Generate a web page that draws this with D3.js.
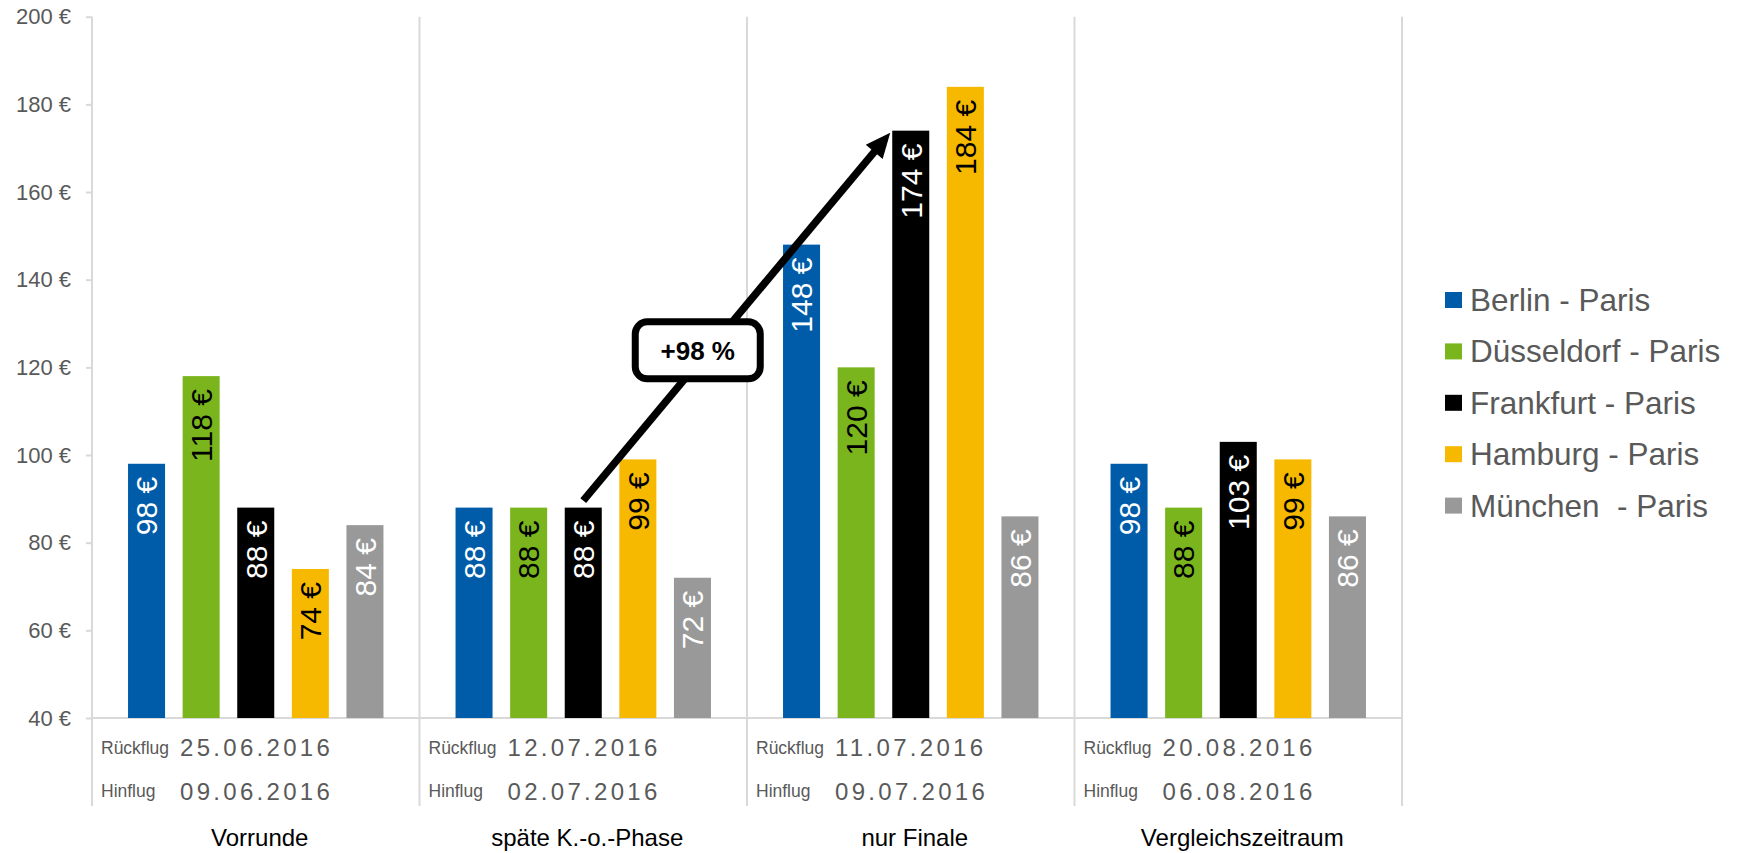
<!DOCTYPE html>
<html>
<head>
<meta charset="utf-8">
<script src="https://cdn.jsdelivr.net/npm/d3@7"></script>
<style>
  body { margin: 0; background: #fff; }
  text { font-family: "Liberation Sans", Arial, sans-serif; }
</style>
</head>
<body>
<svg id="chart"></svg>
<script>
// Data
const categories = ["Vorrunde", "späte K.-o.-Phase", "nur Finale", "Vergleichszeitraum"];
const series = ["Berlin - Paris", "Düsseldorf - Paris", "Frankfurt - Paris", "Hamburg - Paris", "München  - Paris"];
const berlin = [98, 88, 148, 98];
const duesseldorf = [118, 88, 120, 88];
const frankfurt = [88, 88, 174, 103];
const hamburg = [74, 99, 184, 99];
const muenchen = [84, 72, 86, 86];
const rueckflug = ["25.06.2016", "12.07.2016", "11.07.2016", "20.08.2016"];
const hinflug = ["09.06.2016", "02.07.2016", "09.07.2016", "06.08.2016"];
const yTicks = [40, 60, 80, 100, 120, 140, 160, 180, 200];
const increase = "+98 %";

const colors = ["#005ca9", "#7ab51d", "#000000", "#f6b900", "#999999"];
const labelColors = ["#fff", "#000", "#fff", "#000", "#fff"];
const seriesValues = [berlin, duesseldorf, frankfurt, hamburg, muenchen];

const width = 1741, height = 853;
const margin = { top: 16.7, left: 92, right: 339, bottom: 135 };
const plotBottom = height - margin.bottom; // 718

const svg = d3.select("#chart").attr("width", width).attr("height", height);

// Scales
const x0 = d3.scaleBand()
  .domain(categories)
  .range([margin.left, width - margin.right])
  .padding(0);

const x1 = d3.scaleBand()
  .domain(series)
  .range([0, x0.bandwidth()])
  .paddingInner(0.322)
  .paddingOuter(0.66);

const y = d3.scaleLinear()
  .domain([40, 200])
  .range([plotBottom, margin.top]);

// Dividers between groups
const dividers = categories.map(c => x0(c)).concat([x0.range()[1]]);
svg.append("g")
  .selectAll("line")
  .data(dividers)
  .enter()
  .append("line")
  .attr("x1", d => d).attr("x2", d => d)
  .attr("y1", margin.top).attr("y2", 806)
  .attr("stroke", "#d9d9d9")
  .attr("stroke-width", 2);

// Y axis
const yAxis = svg.append("g")
  .attr("transform", `translate(${margin.left},0)`)
  .call(d3.axisLeft(y).tickValues(yTicks).tickSize(6).tickPadding(15).tickFormat(d => d + " €"));
yAxis.select(".domain").remove();
yAxis.selectAll(".tick line").attr("stroke", "#d9d9d9").attr("stroke-width", 2);
yAxis.selectAll(".tick text")
  .attr("fill", "#595959")
  .style("font-size", "22px")
  .style("font-family", "'Liberation Sans', Arial, sans-serif");

// X baseline
svg.append("line")
  .attr("x1", margin.left).attr("x2", x0.range()[1])
  .attr("y1", plotBottom).attr("y2", plotBottom)
  .attr("stroke", "#d9d9d9")
  .attr("stroke-width", 2);

// Bars
const groups = svg.append("g")
  .selectAll("g")
  .data(categories)
  .enter()
  .append("g")
  .attr("transform", c => `translate(${x0(c)},0)`);

groups.selectAll("rect")
  .data((c, i) => series.map((s, j) => ({ s, j, v: seriesValues[j][i] })))
  .enter()
  .append("rect")
  .attr("x", d => x1(d.s))
  .attr("y", d => y(d.v))
  .attr("width", x1.bandwidth())
  .attr("height", d => y(40) - y(d.v))
  .attr("fill", d => colors[d.j]);

// Value labels (rotated, inside end)
groups.selectAll(".val")
  .data((c, i) => series.map((s, j) => ({ s, j, v: seriesValues[j][i] })))
  .enter()
  .append("text")
  .attr("class", "val")
  .attr("transform", d => `translate(${x1(d.s) + x1.bandwidth() / 2},${y(d.v) + 13}) rotate(-90)`)
  .attr("text-anchor", "end")
  .attr("dy", "0.36em")
  .attr("fill", d => labelColors[d.j])
  .style("font-size", "30px")
  .text(d => d.v + " €");

// Flight date rows
groups.append("text")
  .attr("x", 9).attr("y", 754)
  .attr("fill", "#595959")
  .style("font-size", "17.5px")
  .text("Rückflug");
groups.append("text")
  .attr("x", 88).attr("y", 756)
  .attr("fill", "#595959")
  .style("font-size", "24px")
  .style("letter-spacing", "3.3px")
  .text((c, i) => rueckflug[i]);
groups.append("text")
  .attr("x", 9).attr("y", 797)
  .attr("fill", "#595959")
  .style("font-size", "17.5px")
  .text("Hinflug");
groups.append("text")
  .attr("x", 88).attr("y", 800)
  .attr("fill", "#595959")
  .style("font-size", "24px")
  .style("letter-spacing", "3.3px")
  .text((c, i) => hinflug[i]);

// Category names
groups.append("text")
  .attr("x", x0.bandwidth() / 2 + 4).attr("y", 846)
  .attr("text-anchor", "middle")
  .attr("fill", "#000")
  .style("font-size", "24px")
  .text(c => c);

// Annotation arrow
const fr = series[2];
const sx = x0(categories[1]) + x1(fr) + x1.bandwidth() / 2;
const sy = y(frankfurt[1]) - 7;
const ex = x0(categories[2]) + x1(fr) - 2;
const ey = y(frankfurt[2]) + 2;
const ang = Math.atan2(ey - sy, ex - sx);
const headLen = 25, headHalf = 11;
const bx = ex - headLen * Math.cos(ang), by = ey - headLen * Math.sin(ang);

svg.append("line")
  .attr("x1", sx).attr("y1", sy)
  .attr("x2", bx + 3 * Math.cos(ang)).attr("y2", by + 3 * Math.sin(ang))
  .attr("stroke", "#000")
  .attr("stroke-width", 7.5);

svg.append("path")
  .attr("d", d3.line()([
    [ex, ey],
    [bx + headHalf * Math.sin(ang), by - headHalf * Math.cos(ang)],
    [bx - headHalf * Math.sin(ang), by + headHalf * Math.cos(ang)]
  ]) + "Z")
  .attr("fill", "#000");

// Annotation box
const t = 0.373;
const cx = sx + t * (ex - sx);
const cy = sy + t * (ey - sy) - 13;
svg.append("rect")
  .attr("x", cx - 62.5).attr("y", cy - 28.5)
  .attr("width", 125).attr("height", 57)
  .attr("rx", 12).attr("ry", 12)
  .attr("fill", "#fff")
  .attr("stroke", "#000")
  .attr("stroke-width", 7);
svg.append("text")
  .attr("x", cx).attr("y", cy + 10)
  .attr("text-anchor", "middle")
  .attr("fill", "#000")
  .style("font-size", "26px")
  .style("font-weight", "bold")
  .text(increase);

// Legend
const legend = svg.append("g")
  .selectAll("g")
  .data(series)
  .enter()
  .append("g")
  .attr("transform", (d, i) => `translate(1445,${300 + i * 51.4})`);
legend.append("rect")
  .attr("x", 0).attr("y", -8)
  .attr("width", 17).attr("height", 16)
  .attr("fill", (d, i) => colors[i]);
legend.append("text")
  .attr("x", 25).attr("y", 0)
  .attr("dy", "0.35em")
  .attr("fill", "#595959")
  .style("font-size", "31.5px")
  .style("white-space", "pre")
  .attr("xml:space", "preserve")
  .text(d => d);
</script>
</body>
</html>
